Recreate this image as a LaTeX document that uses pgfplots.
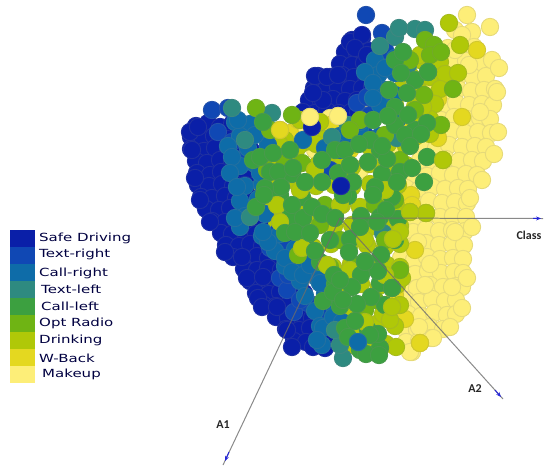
\documentclass[border=0pt]{standalone}
\usepackage{fontspec}
\setmainfont{DejaVu Sans}
\newfontfamily\lab{Carlito}
\newfontfamily\lgf[FakeStretch=1.34]{DejaVu Sans}
\usepackage{pgfplots}
\pgfplotsset{compat=1.18}
\usetikzlibrary{arrows.meta}
\definecolor{sd}{HTML}{0A1FA8}
\definecolor{tr}{HTML}{1048B4}
\definecolor{cr}{HTML}{0E6CA8}
\definecolor{tl}{HTML}{2E8A80}
\definecolor{cl}{HTML}{3CA040}
\definecolor{or}{HTML}{6FB414}
\definecolor{dk}{HTML}{B0C808}
\definecolor{wb}{HTML}{E4D820}
\definecolor{mk}{HTML}{FDEE78}
\pgfplotsset{pts/.style={only marks,mark=*,mark size=8.7,mark options={draw=#1!82!gray,fill=#1,line width=0.9pt}},
 frame/.style={scale only axis,width=550bp,height=471bp,xmin=0,xmax=550,ymin=0,ymax=471,y dir=reverse,hide axis,clip=false}}
\begin{document}
\begin{tikzpicture}
\begin{axis}[frame]
\path[use as bounding box] (axis cs:0,0) rectangle (axis cs:550,471);
% Safe Driving, body
\addplot[pts=sd] coordinates {
(196,126)(208,123)(220,127)(232,124)(191,137)(203,139)(214,136)(227,139)(239,136)
(191,149)(204,151)(215,148)(228,150)(240,148)(251,150)(196,161)(207,163)(220,160)(232,162)(243,160)
(197,173)(210,175)(221,172)(233,174)(246,172)(198,185)(209,186)(222,184)(233,186)(245,185)(257,184)
(201,197)(212,198)(225,196)(236,198)(248,197)(206,209)(219,210)(230,208)(243,210)(254,209)
(212,221)(225,222)(236,220)(248,222)(260,221)(221,233)(232,234)(245,232)(256,234)(268,233)
(226,245)(239,246)(250,244)(262,246)(274,245)(233,257)(244,258)(257,256)(268,258)(280,257)
(244,269)(257,270)(268,268)(281,270)(292,269)(250,281)(262,282)(275,280)(286,282)(298,281)
(256,293)(269,294)(280,292)(293,294)(304,293)(264,305)(276,306)(289,304)(300,306)(312,305)
(276,317)(288,318)(301,316)(312,318)(324,317)(286,329)(299,330)(310,328)(322,330)(330,329)
(294,341)(306,342)(318,340)(330,342)
(352,40)(362,38)(345,52)(357,53)(369,51)(340,64)(352,65)(364,63)(376,64)
(318,76)(330,77)(342,75)(354,77)(366,76)(378,75)(314,88)(326,89)(338,87)(350,89)(362,88)(372,87)
(309,100)(321,101)(333,99)(345,101)(357,100)(303,112)(315,113)(327,111)(339,113)(351,112)(358,112)
(300,125)(312,126)(324,124)(336,126)(348,125)(358,125)};
\addplot[pts=sd] coordinates {(190,132)(198,127)(192,150)(195,178)(200,200)(210,222)(225,252)(242,257)(247,278)(263,277)(258,298)(262,307)(277,307)(287,330)(292,347)(313,347)(325,348)(315,76)(327,77)(338,75)(350,42)(362,35)(355,48)(367,55)(323,100)(313,93)};
% Makeup, body
\addplot[pts=mk] coordinates {
(455,30)(472,32)(448,48)(461,50)(474,47)(440,62)(453,64)(466,61)(480,63)
(434,76)(447,78)(460,75)(473,77)(486,76)(432,90)(445,92)(458,89)(471,91)(484,90)(495,89)
(430,104)(443,106)(456,103)(469,105)(482,104)(493,105)(428,118)(441,120)(454,117)(467,119)(480,118)(490,119)
(426,132)(439,134)(452,131)(465,133)(478,132)(491,133)(423,146)(436,148)(449,145)(462,147)(475,146)(486,147)
(420,160)(433,162)(446,159)(459,161)(472,160)(483,161)(414,174)(427,176)(440,173)(453,175)(466,174)(477,175)
(406,188)(419,190)(432,187)(445,189)(458,188)(468,189)(403,202)(416,204)(429,201)(442,203)(455,202)(467,203)
(401,216)(414,218)(427,215)(440,217)(453,216)(466,217)(400,230)(413,232)(426,229)(439,231)(452,230)(465,231)
(400,244)(413,246)(426,243)(439,245)(452,244)(464,245)(401,258)(414,260)(427,257)(440,259)(453,258)(463,259)
(402,272)(415,274)(428,271)(441,273)(454,272)(463,273)(404,286)(417,288)(430,285)(443,287)(456,286)(462,287)
(406,300)(419,302)(432,299)(445,301)(456,300)(408,314)(421,316)(434,313)(447,315)(456,314)
(404,328)(417,330)(430,327)(443,329)(406,342)(419,341)(431,338)(412,352)
(310,117)(338,116)(315,150)(345,135)(370,110)(390,150)(392,190)(360,170)(305,135)(330,118)};
\addplot[pts=mk] coordinates {(467,15)(490,27)(462,35)(492,60)(499,68)(497,92)(498,132)(494,154)(482,180)(480,112)(470,198)(472,227)(467,278)(462,308)(450,327)(433,338)(410,352)(469,65)(455,50)(418,242)(430,264)(425,285)(452,287)(455,232)(419,327)};
% W-Back
\addplot[pts=wb] coordinates {(280,130)(290,133)(298,120)(462,117)(438,99)(438,138)(418,80)(405,319)(420,343)(411,195)(477,50)(340,157)(415,250)(350,150)(425,60)(330,125)(395,295)(405,130)(412,205)(330,145)(385,230)};
% Drinking, body
\addplot[pts=dk] coordinates {
(300,120)(320,122)(285,140)(305,142)(325,139)(350,141)(370,140)(280,145)(298,147)(316,144)(334,146)(352,145)(370,147)(388,144)(406,146)
(262,165)(280,167)(298,164)(316,166)(334,165)(352,167)(370,164)(388,166)(406,165)
(262,185)(280,187)(298,184)(316,186)(334,185)(352,187)(370,184)(388,186)(398,185)
(270,205)(288,207)(306,204)(324,206)(342,205)(360,207)(378,204)(396,206)
(280,225)(298,227)(316,224)(334,226)(352,225)(370,227)(388,224)(400,226)
(295,245)(313,247)(331,244)(349,246)(367,245)(385,247)(400,244)
(315,265)(333,267)(351,264)(369,266)(387,265)(400,267)
(325,285)(343,287)(361,284)(379,286)(397,285)(330,305)(348,307)(366,304)(384,306)(400,305)
(340,325)(358,327)(376,324)(395,326)(350,345)(368,347)(386,344)
(420,60)(440,62)(410,75)(430,77)(445,74)(400,90)(420,92)(440,89)(395,105)(415,107)(435,104)(395,120)(415,122)(430,119)(395,135)(415,137)(430,134)};
\addplot[pts=dk] coordinates {(449,23)(460,45)(458,73)(443,160)(420,55)(423,107)(342,157)(383,178)(393,239)(410,212)(426,213)(392,307)(383,314)(396,347)(402,278)(270,168)(267,180)(302,248)(277,222)(277,205)(327,265)(335,303)};
% Text-right
\addplot[pts=tr] coordinates {(212,110)(218,132)(228,108)(366,15)(382,33)(357,103)(367,97)(385,50)(375,65)(270,248)(285,245)(280,278)(287,290)(294,312)(308,303)(300,228)(352,140)(330,170)(365,135)(288,275)(300,300)(278,232)(232,142)(248,152)(370,115)(385,100)(315,268)(322,310)};
% Call-right
\addplot[pts=cr] coordinates {
(235,122)(250,124)(240,136)(228,146)(248,148)(268,145)(240,166)(255,164)(245,186)(262,184)(240,201)(258,199)(245,216)(265,214)(262,236)(280,234)(275,251)(295,249)(285,266)(305,264)(300,281)(318,279)(305,296)(325,294)(315,311)(335,309)(320,326)(335,324)(322,345)
(375,60)(395,58)(378,75)(395,73)(385,90)(380,105)(340,136)(360,134)(380,136)(340,150)(360,128)(395,95)};
\addplot[pts=cr] coordinates {(238,120)(255,135)(232,157)(230,173)(237,187)(260,173)(303,140)(325,148)(365,72)(373,83)(373,98)(385,68)(347,133)(360,122)(397,120)(240,227)(235,218)(268,242)(285,258)(292,272)(323,328)(317,340)(303,275)(333,317)(320,283)(263,232)(342,322)(310,265)};
% Text-left
\addplot[pts=tl] coordinates {(232,108)(272,113)(245,140)(380,46)(395,37)(415,29)(425,30)(399,28)(408,65)(397,138)(332,137)(250,217)(343,358)(348,125)(383,233)(340,345)(335,330)};
% Opt Radio
\addplot[pts=or] coordinates {(256,108)(270,130)(267,170)(302,163)(283,157)(292,115)(425,40)(434,45)(430,55)(441,52)(424,95)(360,120)(453,89)(441,125)(383,177)(330,267)(298,255)(345,180)(375,205)(325,205)(355,265)(375,300)(395,200)(400,270)(365,310)(350,130)(320,225)(340,240)(385,240)(360,320)(400,160)(415,110)(410,60)(385,135)};
% Call-left, body
\addplot[pts=cl] coordinates {
(290,150)(335,150)(380,150)(270,172)(292,174)(338,173)(382,174)(400,172)
(280,195)(302,197)(348,196)(392,197)(290,217)(335,216)(380,217)(398,219)
(305,240)(350,239)(395,240)(320,262)(365,261)
(335,284)(380,283)(340,306)(385,305)(345,328)(368,330)(360,350)(380,348)
(395,60)(415,80)(395,125)(415,130)(405,135)(370,140)(345,150)};
% Drinking, between the greens
\addplot[pts=dk] coordinates {(302,248)(280,222)(277,205)(327,265)(300,190)(340,205)(365,240)(385,275)(365,322)(390,320)(385,190)(350,270)(315,170)(400,232)};
\addplot[pts=cl] coordinates {(253,160)(260,157)(273,153)(278,172)(293,168)(305,182)(322,182)(322,160)(281,187)(265,188)(263,122)(403,52)(401,73)(428,72)(389,90)(407,93)(395,107)(408,115)(373,120)(388,116)(427,123)(421,134)(410,146)(427,157)(412,168)(424,182)(397,182)(387,159)(368,162)(382,146)(359,144)(353,182)(375,187)(256,207)(264,195)(292,205)(303,218)(285,233)(295,232)(312,207)(322,214)(335,218)(330,240)(315,251)(334,275)(323,301)(333,292)(310,233)(386,210)(373,195)(361,216)(377,222)(360,227)(349,252)(381,255)(378,271)(361,275)(352,287)(371,297)(357,304)(392,288)(355,321)(378,334)(370,335)(348,337)(366,354)(379,355)(340,280)(365,262)(343,300)(343,195)(350,165)};
% top points
\addplot[pts=sd] coordinates {(341,186)(312,127)};
\addplot[pts=cr] coordinates {(358,342)};
\addplot[pts=dk] coordinates {(392,307)(443,160)(426,213)(410,212)(393,239)};
\addplot[pts=wb] coordinates {(280,130)(420,343)};
\addplot[pts=mk] coordinates {(310,117)(338,116)};
\addplot[pts=cl] coordinates {(392,288)(428,72)};
\end{axis}
\begin{axis}[frame]
% axes
\addplot[draw=gray!85!black,opacity=.8,line width=1pt] coordinates {(340,218)(543,218.5)};
\addplot[draw=gray!85!black,opacity=.8,line width=1pt] coordinates {(340,218)(503,399)};
\addplot[draw=gray!85!black,opacity=.8,line width=1pt] coordinates {(340,218)(223,465)};
\addplot[draw=blue!70!gray,line width=1pt,-{Stealth[length=5pt,width=4pt]}] coordinates {(533,218.4)(541,218.5)};
\addplot[draw=blue!70!gray,line width=1pt,-{Stealth[length=5pt,width=4pt]}] coordinates {(495,390)(501,397)};
\addplot[draw=blue!70!gray,line width=1pt,-{Stealth[length=5pt,width=4pt]}] coordinates {(229,452)(225,461)};
% legend
\fill[sd] (axis cs:10,230) rectangle (axis cs:35,247);
\fill[tr] (axis cs:10,247) rectangle (axis cs:35,264);
\fill[cr] (axis cs:10,264) rectangle (axis cs:35,281);
\fill[tl] (axis cs:10,281) rectangle (axis cs:35,298);
\fill[cl] (axis cs:10,298) rectangle (axis cs:35,315);
\fill[or] (axis cs:10,315) rectangle (axis cs:35,332);
\fill[dk] (axis cs:10,332) rectangle (axis cs:35,349);
\fill[wb] (axis cs:10,349) rectangle (axis cs:35,366);
\fill[mk] (axis cs:10,366) rectangle (axis cs:35,383);
\tikzset{lg/.style={anchor=west,inner sep=0pt,font=\lgf\fontsize{11.2bp}{13bp}\selectfont,text=black!75!blue}}
\node[lg] at (axis cs:39,238) {Safe Driving};
\node[lg] at (axis cs:39,254) {Text-right};
\node[lg] at (axis cs:39,273) {Call-right};
\node[lg] at (axis cs:41,289) {Text-left};
\node[lg] at (axis cs:41,306) {Call-left};
\node[lg] at (axis cs:39,323) {Opt Radio};
\node[lg] at (axis cs:39,340) {Drinking};
\node[lg] at (axis cs:39,358) {W-Back};
\node[lg] at (axis cs:42,374) {Makeup};
\tikzset{al/.style={inner sep=0pt,font=\lab\bfseries\fontsize{12bp}{14bp}\selectfont,text=black!85}}
\node[al] at (axis cs:529,235) {Class};
\node[al] at (axis cs:475,389) {A2};
\node[al] at (axis cs:223,425) {A1};
\end{axis}
\end{tikzpicture}
\end{document}
